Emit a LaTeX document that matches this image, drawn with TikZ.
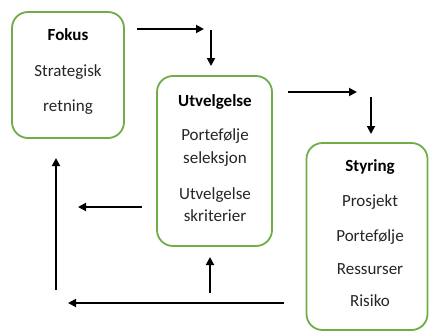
\documentclass[tikz,border=0pt]{standalone}
\usepackage{fontspec}
\setmainfont{Carlito}
\usetikzlibrary{arrows.meta}
\definecolor{boxgreen}{HTML}{70AD47}
\definecolor{txt}{HTML}{262626}
\tikzset{
  box/.style={draw=boxgreen, line width=1.8pt, rounded corners=16pt, fill=white, inner sep=0pt},
  lbl/.style={text=txt, font=\fontsize{17}{19}\selectfont, inner sep=0pt, anchor=base},
  ttl/.style={lbl, font=\fontsize{17}{19}\selectfont\bfseries, text=black},
  arr/.style={line width=1.8pt, -{Triangle[length=8pt,width=8pt]}}
}
\begin{document}
\begin{tikzpicture}[x=1pt,y=-1pt]
\useasboundingbox (0,0) rectangle (430,333);
% boxes
\node[box, minimum width=112pt, minimum height=126pt] (fokus) at (68,75) {};
\node[box, minimum width=115pt, minimum height=170pt] (utv) at (214.5,161) {};
\node[box, minimum width=121pt, minimum height=187pt] (sty) at (367,236.5) {};
% texts
\node[ttl] (f1) at (68,40) {Fokus};
\node[lbl] (f2) at (68,76) {Strategisk};
\node[lbl] (f3) at (68,111) {retning};
\node[ttl] (u1) at (215,106) {Utvelgelse};
\node[lbl] (u2) at (215,140) {Portefølje};
\node[lbl] (u3) at (215,163) {seleksjon};
\node[lbl] (u4) at (215,199) {Utvelgelse};
\node[lbl] (u5) at (215,221) {skriterier};
\node[ttl] (s1) at (370,171) {Styring};
\node[lbl] (s2) at (370,206) {Prosjekt};
\node[lbl] (s3) at (370,241) {Portefølje};
\node[lbl] (s4) at (370,274) {Ressurser};
\node[lbl] (s5) at (370,306) {Risiko};
% arrow end points
\coordinate (a1s) at (137,29); \coordinate (a1e) at (204,29);
\coordinate (a2s) at (211,30); \coordinate (a2e) at (211,66);
\coordinate (a3s) at (288,92); \coordinate (a3e) at (357,92);
\coordinate (a4s) at (371,97); \coordinate (a4e) at (371,134);
\coordinate (a5s) at (142,207); \coordinate (a5e) at (78,207);
\coordinate (a6s) at (56,290); \coordinate (a6e) at (56,158);
\coordinate (a7s) at (210,293); \coordinate (a7e) at (210,257);
\coordinate (a8s) at (284,303); \coordinate (a8e) at (68,303);
\draw[arr] (a1s) -- (a1e);
\draw[arr] (a2s) -- (a2e);
\draw[arr] (a3s) -- (a3e);
\draw[arr] (a4s) -- (a4e);
\draw[arr] (a5s) -- (a5e);
\draw[arr] (a6s) -- (a6e);
\draw[arr] (a7s) -- (a7e);
\draw[arr] (a8s) -- (a8e);
\end{tikzpicture}
\end{document}
